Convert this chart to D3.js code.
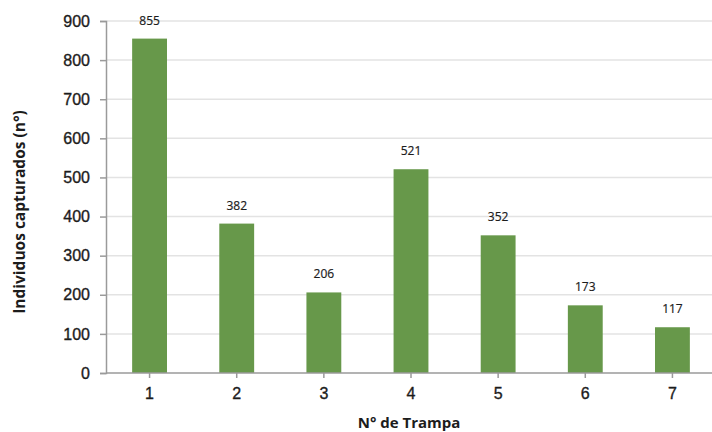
<!DOCTYPE html>
<html>
<head>
<meta charset="utf-8">
<script src="https://cdn.jsdelivr.net/npm/d3@7/dist/d3.min.js"></script>
<style>
  html, body { margin: 0; padding: 0; background: #fff; }
  svg { display: block; font-family: "Open Sans", "Noto Sans", sans-serif; }
</style>
</head>
<body>
<svg id="chart" width="712" height="432"></svg>
<script>
// Trap numbers and captured individuals per trap
const traps = ["1", "2", "3", "4", "5", "6", "7"];
const captured = [855, 382, 206, 521, 352, 173, 117];
const yTicks = [0, 100, 200, 300, 400, 500, 600, 700, 800, 900];

const svg = d3.select("#chart");
const margin = { left: 106, right: -4, top: 21, bottom: 59 };
const W = 712, H = 432;
const ink = "#1c1c1c";

const x = d3.scaleBand()
  .domain(traps)
  .range([margin.left, W - margin.right])
  .paddingInner(0.6)
  .paddingOuter(0.3);

const y = d3.scaleLinear()
  .domain([0, 900])
  .range([H - margin.bottom, margin.top]);

// horizontal gridlines
svg.append("g")
  .selectAll("line")
  .data(yTicks.filter(d => d > 0))
  .join("line")
  .attr("x1", margin.left)
  .attr("x2", W)
  .attr("y1", d => y(d))
  .attr("y2", d => y(d))
  .attr("stroke", "#e3e3e3")
  .attr("stroke-width", 1.5);

// bars
svg.append("g")
  .selectAll("rect")
  .data(traps)
  .join("rect")
  .attr("x", d => x(d))
  .attr("width", x.bandwidth())
  .attr("y", (d, i) => y(captured[i]))
  .attr("height", (d, i) => y(0) - y(captured[i]))
  .attr("fill", "#67984a");

// value labels
svg.append("g")
  .selectAll("text")
  .data(traps)
  .join("text")
  .attr("x", d => x(d) + x.bandwidth() / 2)
  .attr("y", (d, i) => y(captured[i]) - 14)
  .attr("text-anchor", "middle")
  .attr("font-size", 12)
  .attr("fill", ink)
  .attr("stroke", ink)
  .attr("stroke-width", 0.2)
  .text((d, i) => captured[i]);

// y axis
const yAxis = svg.append("g")
  .attr("transform", `translate(${margin.left},0)`)
  .call(d3.axisLeft(y).tickValues(yTicks).tickSize(6).tickPadding(10));
yAxis.select(".domain").attr("stroke", "#9a9a9a").attr("stroke-width", 1.5);
yAxis.selectAll(".tick line").attr("stroke", "#9a9a9a").attr("stroke-width", 1.5);
yAxis.selectAll(".tick text").attr("font-size", 16).attr("fill", ink)
  .attr("stroke", ink).attr("stroke-width", 0.35);

// x axis
const xAxis = svg.append("g")
  .attr("transform", `translate(0,${y(0)})`)
  .call(d3.axisBottom(x).tickSize(5).tickPadding(10));
xAxis.select(".domain").attr("stroke", "#9a9a9a").attr("stroke-width", 1.5)
  .attr("d", `M${margin.left},0H${W}`);
xAxis.selectAll(".tick line").attr("stroke", "#9a9a9a").attr("stroke-width", 1.5);
xAxis.selectAll(".tick text").attr("font-size", 16).attr("fill", ink)
  .attr("stroke", ink).attr("stroke-width", 0.35);

// axis titles
svg.append("text")
  .attr("x", 409)
  .attr("y", 428)
  .attr("text-anchor", "middle")
  .attr("font-size", 15)
  .attr("font-weight", "bold")
  .attr("fill", ink)
  .text("N° de Trampa");

svg.append("text")
  .attr("transform", "translate(25,212) rotate(-90)")
  .attr("text-anchor", "middle")
  .attr("font-size", 15.5)
  .attr("font-weight", "bold")
  .attr("fill", ink)
  .text("Individuos capturados (n°)");
</script>
</body>
</html>
